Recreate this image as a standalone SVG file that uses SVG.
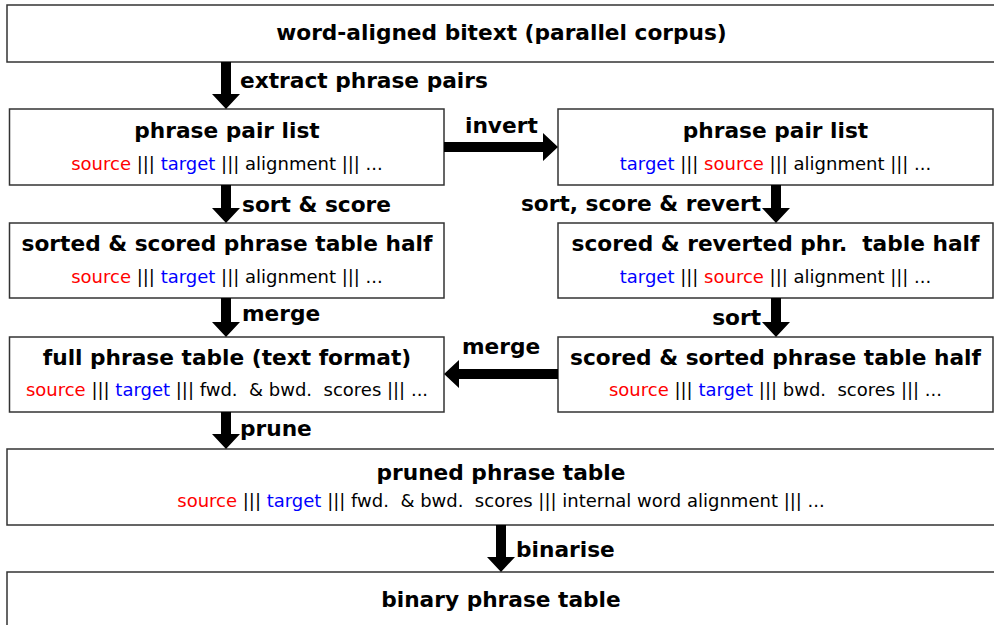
<svg xmlns="http://www.w3.org/2000/svg" width="994" height="625" viewBox="0 0 994 625">
<style>
.box{fill:#fff;stroke:#333;stroke-width:1.5}
.t{font-family:"DejaVu Sans",sans-serif;font-weight:bold;font-size:21.7px;fill:#000;text-anchor:middle}
.s{font-family:"DejaVu Sans",sans-serif;font-size:18px;fill:#000;text-anchor:middle;white-space:pre}
.l{font-family:"DejaVu Sans",sans-serif;font-weight:bold;font-size:21.7px;fill:#000}
.r{fill:#ff0000}
.b{fill:#0000ff}
.arr{fill:#000}
</style>
<rect width="994" height="625" fill="#fff"/>
<g id="bitext">
<rect class="box" x="7" y="5" width="994" height="57"/>
<text class="t" x="501.5" y="40">word-aligned bitext (parallel corpus)</text>
</g>
<g id="ppl1">
<rect class="box" x="9.5" y="109" width="434.5" height="76"/>
<text class="t" x="227" y="138">phrase pair list</text>
<text class="s" x="227" y="170" xml:space="preserve"><tspan class="r">source</tspan> ||| <tspan class="b">target</tspan> ||| alignment ||| ...</text>
</g>
<g id="ppl2">
<rect class="box" x="558" y="109" width="435" height="76"/>
<text class="t" x="775.5" y="138">phrase pair list</text>
<text class="s" x="775.5" y="170" xml:space="preserve"><tspan class="b">target</tspan> ||| <tspan class="r">source</tspan> ||| alignment ||| ...</text>
</g>
<g id="half1">
<rect class="box" x="9.5" y="223" width="434.5" height="75"/>
<text class="t" x="227" y="251">sorted &amp; scored phrase table half</text>
<text class="s" x="227" y="283" xml:space="preserve"><tspan class="r">source</tspan> ||| <tspan class="b">target</tspan> ||| alignment ||| ...</text>
</g>
<g id="half2">
<rect class="box" x="558" y="223" width="435" height="75"/>
<text class="t" x="775.5" y="251" xml:space="preserve">scored &amp; reverted phr.  table half</text>
<text class="s" x="775.5" y="283" xml:space="preserve"><tspan class="b">target</tspan> ||| <tspan class="r">source</tspan> ||| alignment ||| ...</text>
</g>
<g id="full">
<rect class="box" x="9.5" y="337" width="434.5" height="75"/>
<text class="t" x="227" y="365">full phrase table (text format)</text>
<text class="s" x="227" y="396" xml:space="preserve"><tspan class="r">source</tspan> ||| <tspan class="b">target</tspan> ||| fwd.  &amp; bwd.  scores ||| ...</text>
</g>
<g id="half3">
<rect class="box" x="558" y="337" width="435" height="75"/>
<text class="t" x="775.5" y="365">scored &amp; sorted phrase table half</text>
<text class="s" x="775.5" y="396" xml:space="preserve"><tspan class="r">source</tspan> ||| <tspan class="b">target</tspan> ||| bwd.  scores ||| ...</text>
</g>
<g id="pruned">
<rect class="box" x="7" y="449" width="994" height="76"/>
<text class="t" x="501" y="480">pruned phrase table</text>
<text class="s" x="501" y="507" xml:space="preserve"><tspan class="r">source</tspan> ||| <tspan class="b">target</tspan> ||| fwd.  &amp; bwd.  scores ||| internal word alignment ||| ...</text>
</g>
<g id="binary">
<rect class="box" x="7" y="572" width="994" height="80"/>
<text class="t" x="501" y="607">binary phrase table</text>
</g>
<g id="connectors">
<polygon class="arr" points="221,62 231,62 231,94 240,94 226,109 212,94 221,94"/>
<text class="l" x="240" y="88">extract phrase pairs</text>
<polygon class="arr" points="444,142 444,152 543,152 543,161 558,147 543,133 543,142"/>
<text class="l" x="465" y="133">invert</text>
<polygon class="arr" points="221,185 231,185 231,208 240,208 226,223 212,208 221,208"/>
<text class="l" x="242" y="212">sort &amp; score</text>
<polygon class="arr" points="771,185 781,185 781,208 790,208 776,223 762,208 771,208"/>
<text class="l" x="761" y="211" text-anchor="end">sort, score &amp; revert</text>
<polygon class="arr" points="221,298 231,298 231,322 240,322 226,337 212,322 221,322"/>
<text class="l" x="242" y="321">merge</text>
<polygon class="arr" points="771,298 781,298 781,322 790,322 776,337 762,322 771,322"/>
<text class="l" x="761" y="325" text-anchor="end">sort</text>
<polygon class="arr" points="558,369 558,379 459,379 459,388 444,374 459,360 459,369"/>
<text class="l" x="462" y="354">merge</text>
<polygon class="arr" points="221,412 231,412 231,434 240,434 226,449 212,434 221,434"/>
<text class="l" x="240" y="436">prune</text>
<polygon class="arr" points="496,525 506,525 506,557 515,557 501,572 487,557 496,557"/>
<text class="l" x="516" y="557">binarise</text>
</g>
</svg>
